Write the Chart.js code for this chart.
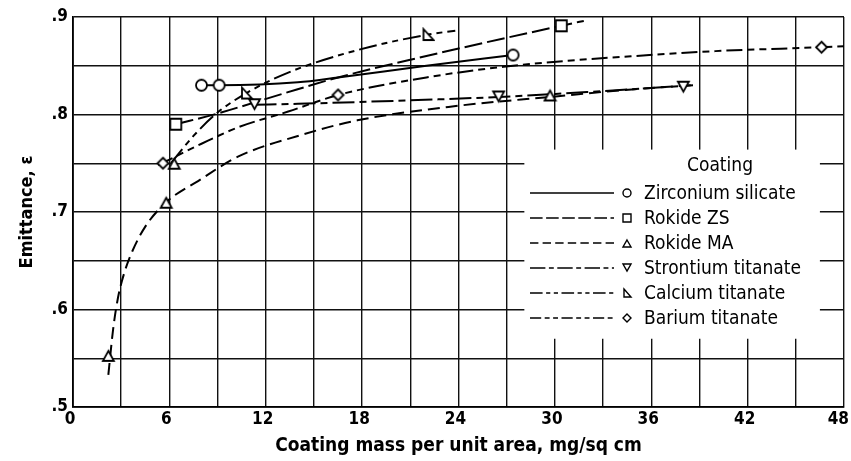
<!DOCTYPE html>
<html>
<head>
<meta charset="utf-8">
<script src="https://cdn.jsdelivr.net/npm/chart.js@4.4.1/dist/chart.umd.min.js"></script>
<style>
  html, body { margin: 0; padding: 0; background: #fff; }
</style>
</head>
<body>
<canvas id="chart" width="851" height="461"></canvas>
<script>
// measured points [mass, emittance]
const zirconiumPoints = [[8.0, 0.830], [9.1, 0.830], [27.4, 0.861]];
const rokideZsPoints = [[6.4, 0.790], [30.4, 0.891]];
const rokideMaPoints = [[2.2, 0.553], [5.8, 0.710], [6.3, 0.750], [29.7, 0.820]];
const strontiumPoints = [[11.3, 0.810], [26.5, 0.818], [38.0, 0.828]];
const calciumPoints = [[10.8, 0.822], [22.1, 0.882]];
const bariumPoints = [[5.6, 0.750], [16.5, 0.820], [46.6, 0.869]];

// faired curves
const zirconiumCurve = [[8.0, 0.830], [9.1, 0.830], [14, 0.833], [16.5, 0.838], [22, 0.850], [27.4, 0.861]];
const rokideZsCurve = [[6.4, 0.790], [9, 0.801], [13, 0.821], [16.5, 0.838], [22, 0.860], [26.8, 0.878], [30.4, 0.891], [31.8, 0.896]];
const rokideMaCurve = [[2.2, 0.533], [2.5, 0.580], [2.8, 0.612], [3.2, 0.638], [3.7, 0.660], [4.5, 0.685], [5.8, 0.710], [7.9, 0.733], [10.3, 0.757], [14, 0.778], [17.7, 0.794], [24, 0.809], [29.7, 0.818], [35, 0.826], [38.5, 0.830]];
const strontiumCurve = [[11.3, 0.810], [14, 0.811], [20, 0.814], [26.5, 0.818], [32, 0.823], [38.6, 0.830]];
const calciumCurve = [[6.1, 0.750], [7.5, 0.778], [9, 0.802], [10.8, 0.822], [13.4, 0.843], [17.7, 0.866], [22.1, 0.882], [23.8, 0.886]];
const bariumCurve = [[5.3, 0.748], [8, 0.770], [10.3, 0.787], [13.4, 0.803], [16.5, 0.820], [22, 0.838], [26.8, 0.849], [30.7, 0.855], [35, 0.860], [40, 0.865], [46.6, 0.869], [48, 0.870]];

const xTickLabels = [0, 6, 12, 18, 24, 30, 36, 42, 48];
const legendLabels = ['Zirconium silicate', 'Rokide ZS', 'Rokide MA', 'Strontium titanate', 'Calcium titanate', 'Barium titanate'];

const FONT = "'DejaVu Sans Condensed', 'DejaVu Sans', sans-serif";

function marker(shape, s, lw) {
    const pad = 2;
    const c = document.createElement('canvas');
    c.width = c.height = s + pad * 2;
    const g = c.getContext('2d');
    const m = pad, e = pad + s, h = (m + e) / 2;
    g.lineWidth = lw;
    g.strokeStyle = '#000';
    g.fillStyle = '#fff';
    g.beginPath();
    if (shape === 'circle') {
        g.arc(h, h, s / 2, 0, Math.PI * 2);
    } else if (shape === 'square') {
        g.rect(m, m, s, s);
    } else if (shape === 'up') {
        g.moveTo(h, m + 1); g.lineTo(e, e); g.lineTo(m, e); g.closePath();
    } else if (shape === 'down') {
        g.moveTo(m, m); g.lineTo(e, m); g.lineTo(h, e - 1); g.closePath();
    } else if (shape === 'corner') {
        g.moveTo(m + 1, m); g.lineTo(e, e); g.lineTo(m + 1, e); g.closePath();
    } else if (shape === 'diamond') {
        g.moveTo(h, m); g.lineTo(e, h); g.lineTo(h, e); g.lineTo(m, h); g.closePath();
    }
    g.fill();
    g.stroke();
    return c;
}

const shapes = ['circle', 'square', 'up', 'down', 'corner', 'diamond'];
const dashes = [[], [18, 5], [12, 6], [22, 5, 7, 5], [18, 5, 6, 5, 6, 5], [16, 5, 7, 5, 7, 5]];
const bigMarks = shapes.map(s => marker(s, 11, 1.8));
const smallMarks = shapes.map(s => marker(s, 8, 1.4));

const allPoints = [zirconiumPoints, rokideZsPoints, rokideMaPoints, strontiumPoints, calciumPoints, bariumPoints];
const allCurves = [zirconiumCurve, rokideZsCurve, rokideMaCurve, strontiumCurve, calciumCurve, bariumCurve];

const toXY = arr => arr.map(p => ({ x: p[0], y: p[1] }));

const datasets = [];
allPoints.forEach((pts, i) => {
    datasets.push({
        type: 'scatter',
        label: legendLabels[i],
        data: toXY(pts),
        pointStyle: bigMarks[i],
        pointRadius: 6,
        showLine: false
    });
});
allCurves.forEach((pts, i) => {
    datasets.push({
        type: 'line',
        label: legendLabels[i] + ' fit',
        data: toXY(pts),
        borderColor: '#000',
        borderWidth: 2,
        borderDash: dashes[i],
        pointRadius: 0,
        cubicInterpolationMode: 'monotone',
        fill: false
    });
});

const paperPlugin = {
    id: 'paper',
    beforeDatasetsDraw(chart) {
        // white legend panel over the grid
        const xs = chart.scales.x, ys = chart.scales.y;
        const ctx = chart.ctx;
        const l = xs.getPixelForValue(28.1), r = xs.getPixelForValue(46.5);
        const t = ys.getPixelForValue(0.764), b = ys.getPixelForValue(0.57);
        ctx.save();
        ctx.fillStyle = '#fff';
        ctx.fillRect(l, t, r - l, b - t);
        ctx.restore();
    },
    afterDraw(chart) {
        const xs = chart.scales.x;
        const ctx = chart.ctx;
        ctx.save();
        ctx.fillStyle = '#000';
        ctx.textBaseline = 'middle';

        // x tick labels
        ctx.font = 'bold 17px ' + FONT;
        ctx.textAlign = 'center';
        xTickLabels.forEach(v => {
            const w = ctx.measureText(String(v)).width;
            let px = xs.getPixelForValue(v) - 3;
            px = Math.min(px, chart.width - w / 2 - 2);
            ctx.fillText(String(v), px, 420);
        });

        // legend
        ctx.font = '19px ' + FONT;
        ctx.fillText('Coating', 720, 166);
        ctx.textAlign = 'left';
        legendLabels.forEach((lab, i) => {
            const y = 193 + i * 25;
            ctx.save();
            ctx.strokeStyle = '#000';
            ctx.lineWidth = 1.5;
            ctx.setLineDash(dashes[i].map(d => d * 0.7));
            ctx.beginPath();
            ctx.moveTo(530, y);
            ctx.lineTo(614, y);
            ctx.stroke();
            ctx.restore();
            const m = smallMarks[i];
            ctx.drawImage(m, 627 - m.width / 2, y - m.height / 2);
            ctx.fillText(lab, 644, y + 1);
        });
        ctx.restore();
    }
};

new Chart(document.getElementById('chart'), {
    type: 'scatter',
    data: { datasets: datasets },
    plugins: [paperPlugin],
    options: {
        responsive: false,
        animation: false,
        layout: { padding: { left: 0, right: 3, top: 17, bottom: 0 } },
        plugins: {
            legend: { display: false },
            tooltip: { enabled: false }
        },
        scales: {
            x: {
                type: 'linear',
                min: 0,
                max: 48,
                ticks: { stepSize: 3, display: false },
                grid: { color: '#111', lineWidth: 1.4, drawTicks: false },
                border: { color: '#000', width: 1.8 },
                title: {
                    display: true,
                    text: 'Coating mass per unit area, mg/sq cm',
                    color: '#000',
                    font: { family: FONT, size: 19, weight: 'bold' },
                    padding: { top: 0, bottom: 4 }
                },
                afterFit(scale) {
                    scale.height = 54;
                    scale.paddingLeft = 0;
                    scale.paddingRight = 0;
                }
            },
            y: {
                type: 'linear',
                min: 0.5,
                max: 0.9,
                ticks: {
                    stepSize: 0.05,
                    color: '#000',
                    padding: 5,
                    font: { family: FONT, size: 17, weight: 'bold' },
                    callback: function (v) {
                        const r = Math.round(v * 100);
                        return r % 10 === 0 ? '.' + (r / 10) : '';
                    }
                },
                grid: { color: '#111', lineWidth: 1.4, drawTicks: false },
                border: { color: '#000', width: 1.8 },
                title: {
                    display: true,
                    text: 'Emittance, ε',
                    color: '#000',
                    font: { family: FONT, size: 18, weight: 'bold' },
                    padding: { top: 17, bottom: 0 }
                },
                afterFit(scale) {
                    scale.width = 73;
                    scale.paddingTop = 0;
                    scale.paddingBottom = 0;
                }
            }
        }
    }
});
</script>
</body>
</html>
